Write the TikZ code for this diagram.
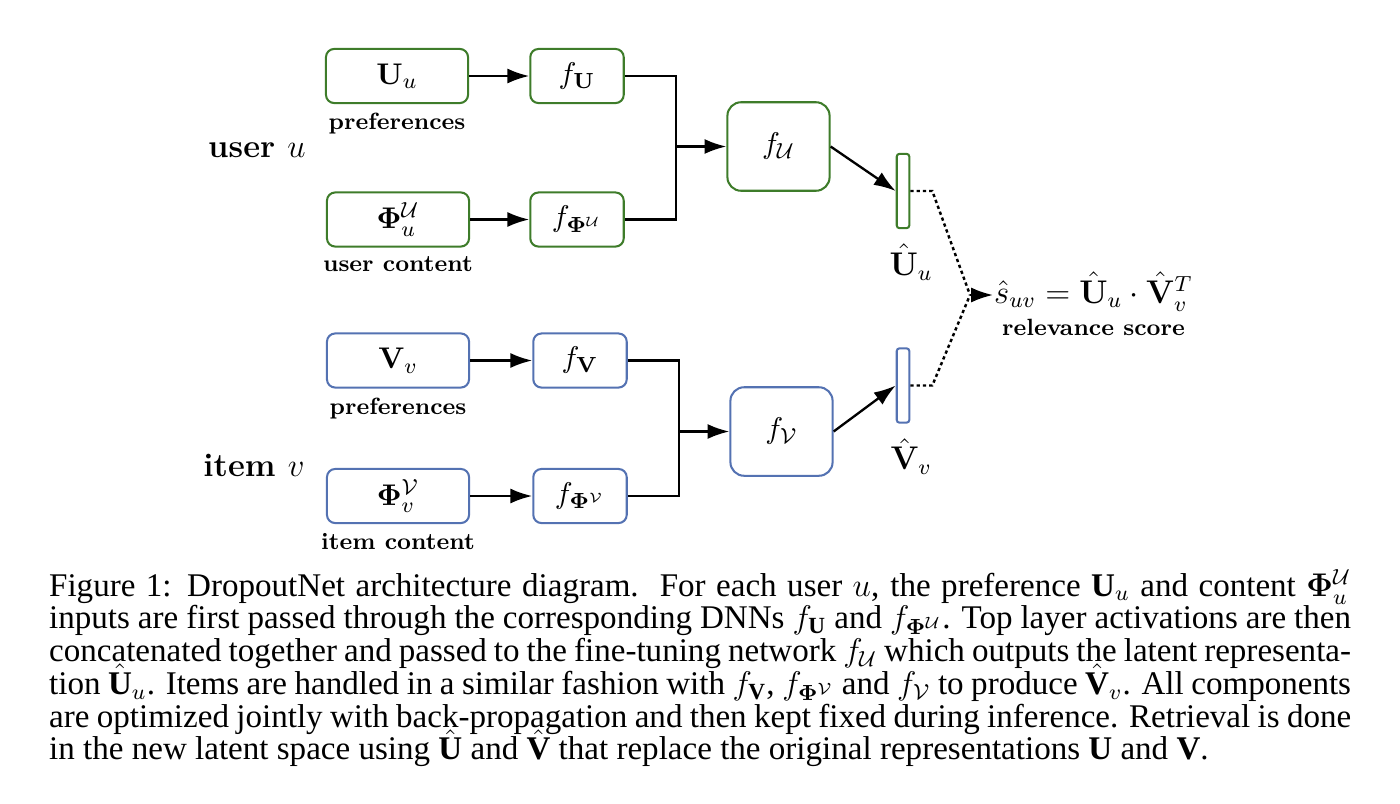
\documentclass[tikz,border=0pt]{standalone}
\usepackage{amsmath}
\usepackage[no-math]{fontspec}
\newfontfamily\capfont{Liberation Serif}
\usetikzlibrary{arrows.meta, positioning}
\definecolor{usergreen}{RGB}{62,124,42}
\definecolor{itemblue}{RGB}{84,114,178}
\newcommand{\capbf}[1]{\text{\capfont\bfseries #1}}

\begin{document}
\begin{tikzpicture}[x=0.366pt, y=-0.366pt, line width=0.85pt,
    box/.style={draw, line width=0.75pt, rounded corners=3pt, fill=white, inner sep=0pt, font=\fontsize{11}{13}\selectfont},
    inbox/.style={box, minimum width=52pt, minimum height=19.8pt},
    dnn/.style={box, minimum width=34.2pt, minimum height=19.8pt},
    fine/.style={box, rounded corners=5pt, minimum width=37.4pt, minimum height=32.4pt},
    latent/.style={draw, line width=0.75pt, rounded corners=1pt, minimum width=4.6pt, minimum height=27.2pt, inner sep=0pt},
    lab/.style={font=\fontsize{8.6}{10}\selectfont\bfseries, inner sep=0pt},
    side/.style={font=\fontsize{12}{14}\selectfont\bfseries},
    hatlab/.style={font=\fontsize{11.5}{13}\selectfont, inner sep=0pt},
    arr/.style={-{Latex[length=8pt, width=5.5pt]}},
    dots/.style={line width=0.9pt, dash pattern=on 1.2pt off 1.1pt}]

  \useasboundingbox (0,0) rectangle (1400,803);

  % user branch
  \node[side] (user) at (257,150) {user $u$};
  \node[inbox, draw=usergreen] (Uu) at (397,76) {$\mathbf{U}_u$};
  \node[inbox, draw=usergreen] (PhiU) at (398,219.5) {$\mathbf{\Phi}_u^{\mathcal{U}}$};
  \node[lab, below=3pt of Uu] (upref) {preferences};
  \node[lab, below=3pt of PhiU] (ucont) {user content};
  \node[dnn, draw=usergreen] (fU) at (577,76) {$f_{\mathbf{U}}$};
  \node[dnn, draw=usergreen] (fPhiU) at (577,219.5) {$f_{\mathbf{\Phi}^{\mathcal{U}}}$};
  \node[fine, draw=usergreen] (fUcal) at (778.5,146.5) {$f_{\mathcal{U}}$};
  \node[latent, draw=usergreen] (Ubar) at (903,191) {};
  \node[hatlab, below=5pt of Ubar, xshift=3pt] (Uhat) {$\hat{\mathbf{U}}_u$};
  \coordinate (umerge) at (676,146.5);

  \draw[arr] (Uu) -- (fU);
  \draw[arr] (PhiU) -- (fPhiU);
  \draw (fU.east) -| (umerge) |- (fPhiU.east);
  \draw[arr] (umerge) -- (fUcal.west);
  \draw[arr] (fUcal.east) -- (Ubar.west);

  % item branch
  \node[side] (item) at (254,465) {item $v$};
  \node[inbox, draw=itemblue] (Vv) at (398,360.5) {$\mathbf{V}_v$};
  \node[inbox, draw=itemblue] (PhiV) at (398,496) {$\mathbf{\Phi}_v^{\mathcal{V}}$};
  \node[lab, below=3pt of Vv] (vpref) {preferences};
  \node[lab, below=3pt of PhiV] (vcont) {item content};
  \node[dnn, draw=itemblue] (fV) at (580,360.5) {$f_{\mathbf{V}}$};
  \node[dnn, draw=itemblue] (fPhiV) at (580,496) {$f_{\mathbf{\Phi}^{\mathcal{V}}}$};
  \node[fine, draw=itemblue] (fVcal) at (781.5,431.5) {$f_{\mathcal{V}}$};
  \node[latent, draw=itemblue] (Vbar) at (903,385.5) {};
  \node[hatlab, below=5pt of Vbar, xshift=3pt] (Vhat) {$\hat{\mathbf{V}}_v$};
  \coordinate (vmerge) at (679,431.5);

  \draw[arr] (Vv) -- (fV);
  \draw[arr] (PhiV) -- (fPhiV);
  \draw (fV.east) -| (vmerge) |- (fPhiV.east);
  \draw[arr] (vmerge) -- (fVcal.west);
  \draw[arr] (fVcal.east) -- (Vbar.west);

  % relevance score
  \node[hatlab, anchor=base west] (score) at (993,303) {$\hat{s}_{uv} = \hat{\mathbf{U}}_u \cdot \hat{\mathbf{V}}_v^T$};
  \node[lab, below=2pt of score] (rel) {relevance score};
  \coordinate (join) at (970,295);
  \draw[dots] (Ubar.east) -- ++(22,0) -- (join);
  \draw[dots] (Vbar.east) -- ++(22,0) -- (join);
  \draw[arr] (join) -- (join -| score.west);

  % caption
  \node[anchor=north west, inner sep=0pt, text width=476.5pt, align=justify,
        font=\fontsize{12.1}{12}\selectfont\capfont] (caption) at (48,568)
    {\lineskiplimit=-20pt\relax
     Figure 1: DropoutNet architecture diagram.\ \ For each user $u$, the preference $\capbf{U}_u$ and content $\mathbf{\Phi}_u^{\mathcal{U}}$\linebreak
     inputs are first passed through the corresponding DNNs $f_{\capbf{U}}$ and $f_{\mathbf{\Phi}^{\mathcal{U}}}$. Top layer activations are then\linebreak
     concatenated together and passed to the fine-tuning network $f_{\mathcal{U}}$ which outputs the latent representa-\linebreak
     tion $\hat{\capbf{U}}_u$. Items are handled in a similar fashion with $f_{\capbf{V}}$, $f_{\mathbf{\Phi}^{\mathcal{V}}}$ and $f_{\mathcal{V}}$ to produce $\hat{\capbf{V}}_v$. All components\linebreak
     are optimized jointly with back-propagation and then kept fixed during inference. Retrieval is done\linebreak
     in the new latent space using $\hat{\capbf{U}}$ and $\hat{\capbf{V}}$ that replace the original representations $\capbf{U}$ and $\capbf{V}$.\par};
\end{tikzpicture}
\end{document}
